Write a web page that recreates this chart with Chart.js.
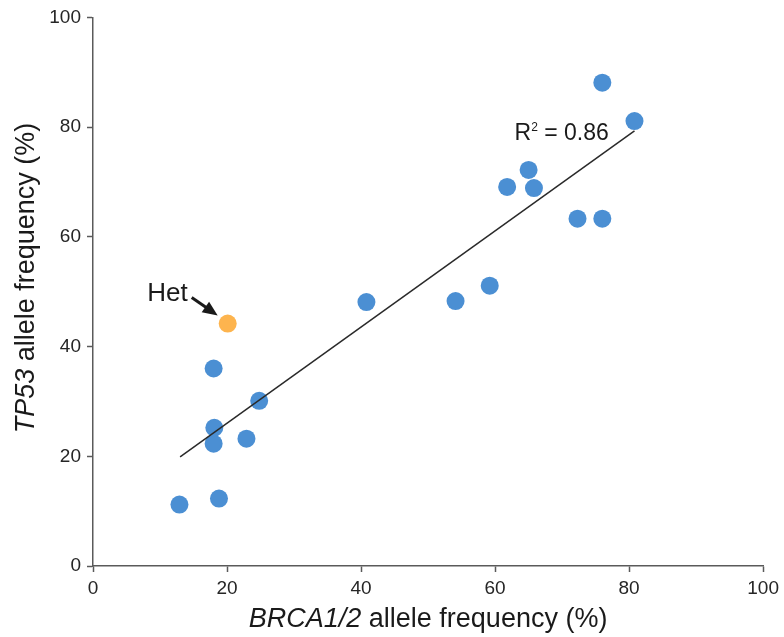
<!DOCTYPE html>
<html>
<head>
<meta charset="utf-8">
<script src="https://cdn.jsdelivr.net/npm/chart.js@4.4.1/dist/chart.umd.min.js"></script>
<style>
body{margin:0;background:#fff;}
#wrap{width:784px;height:637px;}
</style>
</head>
<body>
<div id="wrap"><canvas id="afChart" width="784" height="637"></canvas></div>
<script>
// allele frequencies (%)
const brcaFreq = [12.9, 18.8, 18.0, 18.1, 22.9, 24.8, 18.0, 40.8, 54.1, 59.2, 61.8, 65.8, 65.0, 72.3, 76.0, 76.0, 80.8];
const tp53Freq = [11.2, 12.3, 22.3, 25.2, 23.2, 30.1, 36.0, 48.1, 48.3, 51.1, 69.1, 68.9, 72.2, 63.3, 63.3, 88.1, 81.1];
// the heterozygous sample
const hetBrca = [20.1];
const hetTp53 = [44.2];
// regression line ends
const fitX = [13.0, 80.8];
const fitY = [19.9, 79.3];
const rSquared = '0.86';
const hetLabel = 'Het';

const FONT = '"Liberation Sans", Arial, Helvetica, sans-serif';
const ctx = document.getElementById('afChart');

const toPts = (xs, ys) => xs.map((v, i) => ({x: v, y: ys[i]}));

// axis titles (mixed italic) + R2 + Het arrow
const textBits = {
    id: 'textBits',
    afterDraw(chart) {
        const c = chart.ctx;
        const xs = chart.scales.x, ys = chart.scales.y;
        c.save();
        c.fillStyle = '#1a1a1a';
        c.textBaseline = 'alphabetic';
        c.textAlign = 'left';

        // x title
        let a = 'BRCA1/2', b = ' allele frequency (%)';
        c.font = 'italic 27px ' + FONT;
        let wa = c.measureText(a).width;
        c.font = '27px ' + FONT;
        let wb = c.measureText(b).width;
        let sx = (chart.chartArea.left + chart.chartArea.right) / 2 - (wa + wb) / 2;
        c.font = 'italic 27px ' + FONT;
        c.fillText(a, sx, 627);
        c.font = '27px ' + FONT;
        c.fillText(b, sx + wa, 627);

        // y title
        a = 'TP53'; b = ' allele frequency (%)';
        c.font = 'italic 27px ' + FONT;
        wa = c.measureText(a).width;
        c.font = '27px ' + FONT;
        wb = c.measureText(b).width;
        c.save();
        c.translate(34, 278);
        c.rotate(-Math.PI / 2);
        sx = -(wa + wb) / 2;
        c.font = 'italic 27px ' + FONT;
        c.fillText(a, sx, 0);
        c.font = '27px ' + FONT;
        c.fillText(b, sx + wa, 0);
        c.restore();

        // R^2 label, placed near the end of the fit line
        let rx = xs.getPixelForValue(62.9), ry = ys.getPixelForValue(77.6);
        c.font = '23px ' + FONT;
        c.fillText('R', rx, ry);
        let w = c.measureText('R').width;
        c.font = '12px ' + FONT;
        c.fillText('2', rx + w, ry - 9);
        w += c.measureText('2').width;
        c.font = '23px ' + FONT;
        c.fillText(' = ' + rSquared, rx + w, ry);

        // Het label + arrow
        const px = xs.getPixelForValue(hetBrca[0]), py = ys.getPixelForValue(hetTp53[0]);
        c.font = '26px ' + FONT;
        const hw = c.measureText(hetLabel).width;
        c.fillText(hetLabel, px - 40 - hw, py - 23);
        const x0 = px - 36, y0 = py - 26, x1 = px - 10, y1 = py - 8;
        const ang = Math.atan2(y1 - y0, x1 - x0);
        c.strokeStyle = '#1a1a1a';
        c.lineWidth = 3;
        c.beginPath();
        c.moveTo(x0, y0);
        c.lineTo(x1 - 10 * Math.cos(ang), y1 - 10 * Math.sin(ang));
        c.stroke();
        c.beginPath();
        c.moveTo(x1, y1);
        c.lineTo(x1 - 15 * Math.cos(ang) + 6.5 * Math.sin(ang), y1 - 15 * Math.sin(ang) - 6.5 * Math.cos(ang));
        c.lineTo(x1 - 15 * Math.cos(ang) - 6.5 * Math.sin(ang), y1 - 15 * Math.sin(ang) + 6.5 * Math.cos(ang));
        c.closePath();
        c.fill();
        c.restore();
    }
};

const axisStyle = {
    type: 'linear',
    min: 0,
    max: 100,
    border: {color: '#5a5a5a', width: 1.5},
    grid: {drawOnChartArea: false, drawTicks: true, tickLength: 6, color: '#5a5a5a', tickWidth: 1.5},
    ticks: {stepSize: 20, color: '#262626', font: {family: FONT, size: 19}}
};

new Chart(ctx, {
    type: 'scatter',
    data: {
        datasets: [{
            label: 'fit',
            type: 'line',
            data: toPts(fitX, fitY),
            borderColor: '#2a2a2a',
            borderWidth: 1.5,
            pointRadius: 0,
            order: 0
        },
        {
            label: 'samples',
            data: toPts(brcaFreq, tp53Freq),
            backgroundColor: '#4b8fd3',
            borderWidth: 0,
            pointRadius: 9,
            order: 1
        },
        {
            label: 'Het',
            data: toPts(hetBrca, hetTp53),
            backgroundColor: '#fdb44e',
            borderWidth: 0,
            pointRadius: 9,
            order: 1
        }]
    },
    options: {
        responsive: false,
        animation: false,
        layout: {padding: {top: 17, right: 20, left: 0, bottom: 0}},
        plugins: {legend: {display: false}, tooltip: {enabled: false}},
        scales: {
            x: Object.assign({}, axisStyle, {
                ticks: Object.assign({}, axisStyle.ticks, {padding: 5}),
                afterFit(s) { s.height = 71; }
            }),
            y: Object.assign({}, axisStyle, {
                ticks: Object.assign({}, axisStyle.ticks, {padding: 6}),
                afterFit(s) { s.width = 93; }
            })
        }
    },
    plugins: [textBits]
});
</script>
</body>
</html>
